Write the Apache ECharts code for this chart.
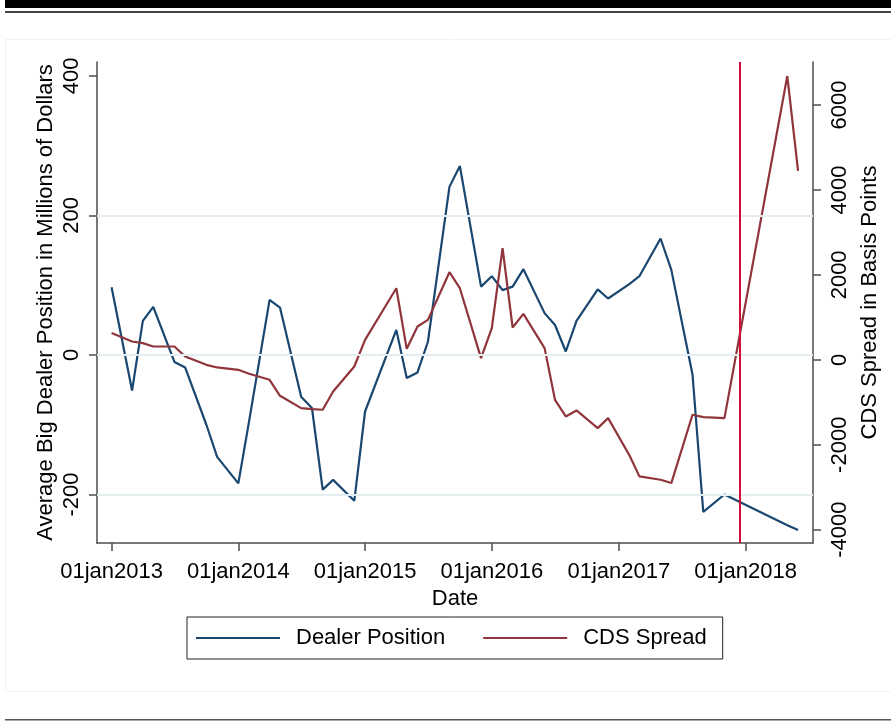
<!DOCTYPE html>
<html>
<head>
<meta charset="utf-8">
<script src="https://cdn.jsdelivr.net/npm/echarts@6/dist/echarts.min.js"></script>
<style>
html,body{margin:0;padding:0;background:#fff;}
#chart{width:891px;height:723px;}
</style>
</head>
<body>
<div id="chart"></div>
<script>
// Observation dates (first of month)
const dates = ['2013-01-01','2013-03-01','2013-04-01','2013-05-01','2013-07-01','2013-08-01','2013-10-01','2013-11-01',
  '2014-01-01','2014-02-01','2014-04-01','2014-05-01','2014-07-01','2014-08-01','2014-09-01','2014-10-01','2014-12-01',
  '2015-01-01','2015-04-01','2015-05-01','2015-06-01','2015-07-01','2015-09-01','2015-10-01','2015-12-01',
  '2016-01-01','2016-02-01','2016-03-01','2016-04-01','2016-06-01','2016-07-01','2016-08-01','2016-09-01','2016-11-01','2016-12-01',
  '2017-02-01','2017-03-01','2017-05-01','2017-06-01','2017-08-01','2017-09-01','2017-11-01',
  '2018-05-01','2018-06-01'];
// Average Big Dealer Position (millions of dollars), left axis
const dealerPosition = [97,-51,49,69,-10,-18,-100,-146,
  -184,-95,79,68,-60,-76,-193,-179,-209,
  -81,36,-33,-25,19,241,271,98,
  113,93,98,123,60,43,5,49,94,81,
  102,113,167,122,-28,-225,-200,
  -244,-251];
// CDS Spread (basis points), right axis
const cdsSpread = [630,431,392,314,314,78,-118,-180,
  -235,-329,-470,-847,-1137,-1160,-1176,-745,-157,
  470,1686,259,784,941,2063,1686,39,
  745,2627,761,1082,275,-941,-1333,-1192,-1608,-1373,
  -2259,-2745,-2824,-2902,-1294,-1349,-1373,
  6682,4447];
const seriesNames = ['Dealer Position','CDS Spread'];
const leftTicks = [-200,0,200,400];
const rightTicks = [-4000,-2000,0,2000,4000,6000];
const xTickDates = ['2013-01-01','2014-01-01','2015-01-01','2016-01-01','2017-01-01','2018-01-01'];
const eventDate = ['2017-12-15'];
const gridValues = [-200,0,200];

const ts = d => { const p = d.split('-').map(Number); return Date.UTC(p[0], p[1]-1, p[2]); };
const MONTHS = ['jan','feb','mar','apr','may','jun','jul','aug','sep','oct','nov','dec'];
const fmtDate = v => { const d = new Date(v); return String(d.getUTCDate()).padStart(2,'0') + MONTHS[d.getUTCMonth()] + d.getUTCFullYear(); };

const FONT = '"Liberation Sans", Arial, sans-serif';
const FS = 22;
const axisGray = '#4d4d4d';
const blue = '#1a476f';
const maroon = '#90353b';

const chart = echarts.init(document.getElementById('chart'), null, {renderer:'canvas'});
chart.setOption({
  backgroundColor: '#ffffff',
  animation: false,
  textStyle: {fontFamily: FONT},
  graphic: [
    {type:'rect', shape:{x:5,y:0,width:886,height:8}, style:{fill:'#000'}, silent:true},
    {type:'rect', shape:{x:5,y:11,width:886,height:2}, style:{fill:'#444'}, silent:true},
    {type:'rect', shape:{x:5.5,y:39.5,width:890,height:652}, style:{fill:'none', stroke:'#f2f2f2', lineWidth:1}, silent:true, z:-1},
    {type:'rect', shape:{x:5,y:719,width:886,height:1.5}, style:{fill:'#555'}, silent:true}
  ],
  grid: {left: 97, right: 78, top: 62, bottom: 180, containLabel: false},
  legend: {
    data: seriesNames,
    left: 187, top: 617,
    orient: 'horizontal',
    icon: 'rect',
    itemWidth: 84, itemHeight: 2,
    itemGap: 38,
    padding: [10, 16, 10, 9],
    borderColor: '#222', borderWidth: 1,
    textStyle: {fontFamily: FONT, fontSize: FS, color: '#000', padding: [0,0,0,11]}
  },
  xAxis: {
    type: 'value',
    min: ts('2012-11-20'), max: ts('2018-07-14'),
    name: 'Date', nameLocation: 'middle', nameGap: 38,
    nameTextStyle: {fontFamily: FONT, fontSize: FS, color: '#000'},
    axisLine: {show: true, onZero: false, lineStyle: {color: axisGray, width: 1.5}},
    axisTick: {show: true, length: 8, customValues: xTickDates.map(ts), lineStyle: {color: axisGray, width: 1.5}},
    axisLabel: {customValues: xTickDates.map(ts), formatter: fmtDate, fontFamily: FONT, fontSize: FS, color: '#000', margin: 18},
    splitLine: {show: false}
  },
  yAxis: [
    {
      type: 'value', position: 'left',
      min: -269.5, max: 420,
      name: 'Average Big Dealer Position in Millions of Dollars',
      nameLocation: 'middle', nameRotate: 90, nameGap: 40, nameMoveOverlap: false,
      nameTextStyle: {fontFamily: FONT, fontSize: FS, color: '#000'},
      axisLine: {show: true, onZero: false, lineStyle: {color: axisGray, width: 1.5}},
      axisTick: {show: true, length: 8, customValues: leftTicks, lineStyle: {color: axisGray, width: 1.5}},
      axisLabel: {customValues: leftTicks, rotate: 90, formatter: v => String(v), fontFamily: FONT, fontSize: FS, color: '#000', margin: 14},
      splitLine: {show: false}
    },
    {
      type: 'value', position: 'right',
      min: -4313, max: 7012,
      name: 'CDS Spread in Basis Points',
      nameLocation: 'middle', nameRotate: 90, nameGap: 42,
      nameTextStyle: {fontFamily: FONT, fontSize: FS, color: '#000'},
      axisLine: {show: true, onZero: false, lineStyle: {color: axisGray, width: 1.5}},
      axisTick: {show: true, length: 8, customValues: rightTicks, lineStyle: {color: axisGray, width: 1.5}},
      axisLabel: {customValues: rightTicks, rotate: 90, formatter: v => String(v), fontFamily: FONT, fontSize: FS, color: '#000', margin: 16},
      splitLine: {show: false}
    }
  ],
  series: [
    {
      name: 'gridlines', type: 'line', yAxisIndex: 0, data: [], z: 0, silent: true,
      markLine: {
        silent: true, symbol: 'none', label: {show: false},
        lineStyle: {color: '#e4edf0', width: 2, type: 'solid'},
        data: gridValues.map(v => ({yAxis: v}))
      }
    },
    {
      name: seriesNames[0], type: 'line', yAxisIndex: 0, z: 2,
      symbol: 'none', showSymbol: false,
      lineStyle: {color: blue, width: 2.2}, itemStyle: {color: blue},
      data: dates.map((d, i) => [ts(d), dealerPosition[i]])
    },
    {
      name: seriesNames[1], type: 'line', yAxisIndex: 1, z: 3,
      symbol: 'none', showSymbol: false,
      lineStyle: {color: maroon, width: 2.2}, itemStyle: {color: maroon},
      data: dates.map((d, i) => [ts(d), cdsSpread[i]]),
      markLine: {
        silent: true, symbol: 'none', label: {show: false},
        lineStyle: {color: '#d0103a', width: 2, type: 'solid'},
        data: eventDate.map(d => ({xAxis: ts(d)}))
      }
    }
  ]
});
</script>
</body>
</html>
